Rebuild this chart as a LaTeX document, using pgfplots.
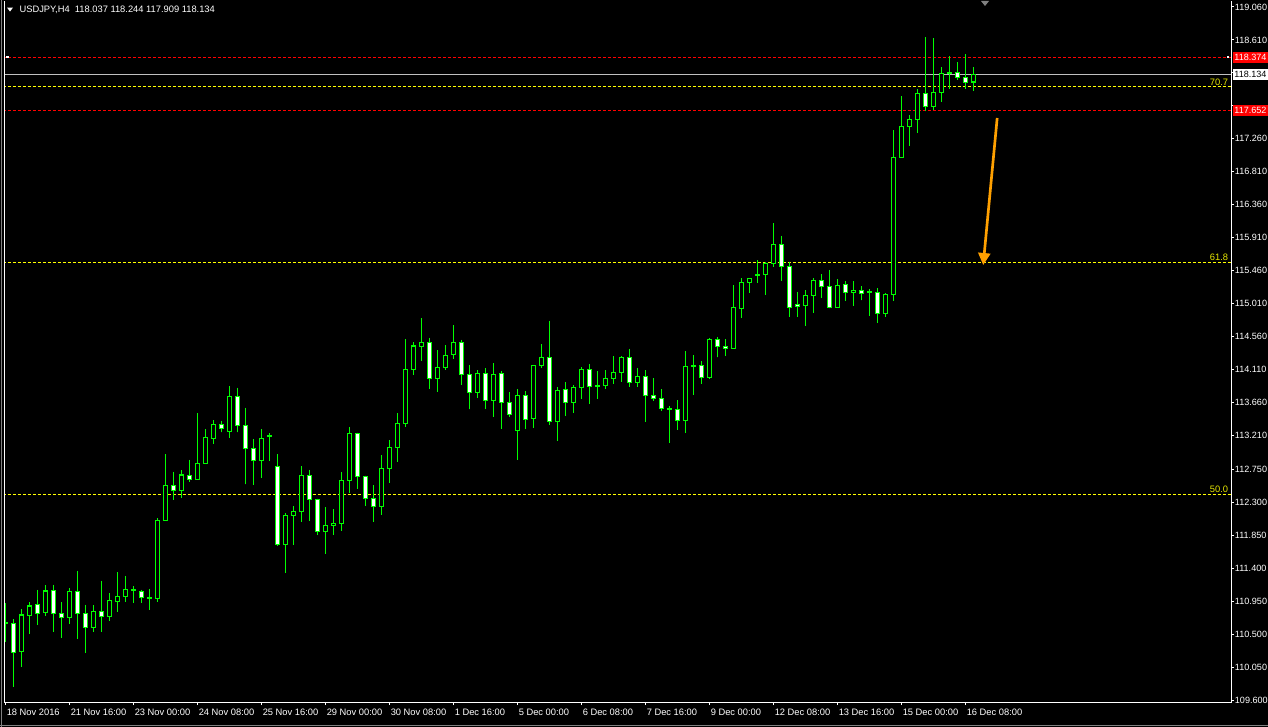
\documentclass[border=0pt]{standalone}
\usepackage{pgfplots}
\pgfplotsset{compat=1.18}
\usepackage{pgfplotstable}
\usepgfplotslibrary{statistics}
\usetikzlibrary{arrows.meta}
\usepackage{fontspec}
\setmainfont{Liberation Sans}
\definecolor{mtgreen}{HTML}{00FF00}
\definecolor{mtred}{HTML}{FF0000}
\definecolor{mtyellow}{HTML}{FFFF00}
\definecolor{fibtext}{HTML}{E6E600}
\definecolor{bidgray}{HTML}{C0C0C0}
\definecolor{mtorange}{HTML}{FFA000}

\pgfplotstableread{
x O H L C
0 110.645 110.920 110.397 110.650
1 110.647 110.706 109.783 110.251
2 110.261 110.843 110.056 110.761
3 110.756 110.938 110.502 110.884
4 110.907 111.102 110.625 110.784
5 110.797 111.171 110.752 111.089
6 111.098 111.171 110.534 110.784
7 110.779 110.938 110.452 110.729
8 110.729 111.125 110.643 111.084
9 111.084 111.362 110.433 110.784
10 110.784 110.898 110.247 110.593
11 110.593 110.898 110.534 110.811
12 110.811 111.225 110.534 110.743
13 110.743 111.057 110.684 110.961
14 110.948 111.348 110.807 111.016
15 111.016 111.293 110.938 111.111
16 111.098 111.157 110.925 111.107
17 111.084 111.102 110.925 111.002
18 110.998 111.116 110.834 110.993
19 110.989 112.081 110.943 112.053
20 112.053 112.959 112.044 112.531
21 112.531 112.713 112.335 112.463
22 112.463 112.740 112.363 112.672
23 112.667 112.877 112.581 112.613
24 112.613 113.518 112.604 112.831
25 112.831 113.300 112.822 113.186
26 113.173 113.418 113.100 113.364
27 113.364 113.409 113.254 113.309
28 113.268 113.887 113.173 113.746
29 113.746 113.860 113.254 113.350
30 113.350 113.587 112.545 113.036
31 113.036 113.159 112.540 112.872
32 112.872 113.295 112.635 113.172
33 113.204 113.241 112.867 113.209
34 112.790 112.958 111.712 111.721
35 111.721 112.149 111.339 112.121
36 112.121 112.249 111.721 112.176
37 112.176 112.795 112.035 112.667
38 112.667 112.740 112.048 112.340
39 112.340 112.349 111.857 111.903
40 111.903 112.235 111.598 111.985
41 111.985 112.208 111.857 112.012
42 112.012 112.713 111.912 112.599
43 112.599 113.327 112.431 113.241
44 113.241 113.250 112.485 112.654
45 112.654 112.663 112.253 112.353
46 112.353 112.531 112.035 112.244
47 112.244 112.945 112.130 112.763
48 112.763 113.150 112.567 113.049
49 113.049 113.518 112.854 113.377
50 113.377 114.528 113.332 114.114
51 114.114 114.483 114.041 114.433
52 114.428 114.815 114.232 114.483
53 114.483 114.542 113.850 113.991
54 113.991 114.378 113.809 114.141
55 114.141 114.446 114.105 114.305
56 114.319 114.719 114.260 114.483
57 114.483 114.515 113.905 114.046
58 114.046 114.173 113.568 113.800
59 113.800 114.105 113.727 114.060
60 114.060 114.132 113.577 113.691
61 113.691 114.201 113.459 114.046
62 114.060 114.087 113.304 113.664
63 113.664 113.800 113.468 113.500
64 113.281 113.841 112.877 113.759
65 113.759 113.814 113.304 113.432
66 113.441 114.173 113.318 114.169
67 114.169 114.460 114.137 114.278
68 114.278 114.774 113.359 113.400
69 113.400 113.868 113.140 113.827
70 113.841 113.937 113.482 113.664
71 113.664 113.896 113.523 113.868
72 113.868 114.141 113.705 114.114
73 114.114 114.182 113.645 113.882
74 113.891 114.087 113.714 113.887
75 113.896 114.100 113.850 113.991
76 113.991 114.292 113.918 114.073
77 114.073 114.292 113.946 114.278
78 114.278 114.392 113.878 113.937
79 113.937 114.128 113.878 114.019
80 114.019 114.100 113.400 113.759
81 113.759 113.991 113.686 113.718
82 113.718 113.841 113.550 113.582
83 113.582 113.609 113.113 113.573
84 113.568 113.691 113.291 113.418
85 113.418 114.360 113.250 114.155
86 114.155 114.305 113.768 114.164
87 114.169 114.223 113.918 114.005
88 114.005 114.537 113.987 114.524
89 114.524 114.551 114.278 114.428
90 114.428 114.524 114.301 114.401
91 114.401 115.261 114.387 114.960
92 114.947 115.356 114.819 115.302
93 115.302 115.365 115.161 115.356
94 115.402 115.607 115.297 115.406
95 115.406 115.575 115.133 115.561
96 115.561 116.112 115.516 115.820
97 115.820 115.934 115.324 115.520
98 115.520 115.584 114.833 114.960
99 115.001 115.170 114.833 114.970
100 114.983 115.197 114.710 115.124
101 115.120 115.356 114.888 115.329
102 115.329 115.415 115.092 115.243
103 115.247 115.470 114.947 114.960
104 114.960 115.347 114.956 115.261
105 115.274 115.315 115.051 115.165
106 115.165 115.315 114.983 115.192
107 115.192 115.247 115.056 115.152
108 115.165 115.211 114.847 115.170
109 115.165 115.220 114.751 114.879
110 114.879 115.161 114.833 115.138
111 115.138 117.381 115.051 117.008
112 117.008 117.845 116.994 117.431
113 117.431 117.586 117.167 117.527
114 117.527 117.936 117.345 117.882
115 117.882 118.650 117.640 117.704
116 117.704 118.637 117.649 117.895
117 117.895 118.241 117.768 118.155
118 118.159 118.391 117.945 118.168
119 118.168 118.309 118.068 118.100
120 118.100 118.418 117.945 118.032
121 118.037 118.244 117.909 118.134
}\candles

\begin{document}
\begin{tikzpicture}
\fill[black] (0bp,0bp) rectangle (951bp,545.25bp);
\useasboundingbox (0bp,0bp) rectangle (951bp,545.25bp);
% window borders
\draw[gray, line width=0.75bp] (0.75bp,0bp) -- (0.75bp,545.25bp);
\draw[gray, line width=0.75bp] (0bp,1.5bp) -- (951bp,1.5bp);
\begin{axis}[
  at={(3bp,18.75bp)}, anchor=south west,
  scale only axis, width=920.25bp, height=525.75bp,
  xmin=-0.1875, xmax=153.1875, ymin=109.5732, ymax=119.1419,
  clip mode=individual,
  axis line style={draw=none},
  tick align=outside, major tick length=2.25bp,
  tick style={white, line width=0.75bp},
  xtick={0,8,...,120},
  xticklabels={18 Nov 2016, 21 Nov 16:00, 23 Nov 00:00, 24 Nov 08:00, 25 Nov 16:00, 29 Nov 00:00, 30 Nov 08:00, 1 Dec 16:00, 5 Dec 00:00, 6 Dec 08:00, 7 Dec 16:00, 9 Dec 00:00, 12 Dec 08:00, 13 Dec 16:00, 15 Dec 00:00, 16 Dec 08:00},
  xtick pos=left,
  ytick pos=right,
  yticklabel pos=right,
  ytick={109.6,110.05,110.5,110.95,111.4,111.85,112.3,112.75,113.21,113.66,114.11,114.56,115.01,115.46,115.91,116.36,116.81,117.26,117.71,118.16,118.61,119.06},
  yticklabels={109.600,110.050,110.500,110.950,111.400,111.850,112.300,112.750,113.210,113.660,114.110,114.560,115.010,115.460,115.910,116.360,116.810,117.260,{},{},118.610,119.060},
  ticklabel style={white, inner sep=0pt},
  xticklabel style={font=\fontsize{7bp}{8bp}\selectfont, anchor=north west, xshift=0.75bp, yshift=-2.5bp},
  yticklabel style={font=\fontsize{6.8bp}{8bp}\selectfont, anchor=west, xshift=0.5bp},
  boxplot/draw direction=y,
]
% horizontal object lines
\addplot[bidgray, line width=0.75bp] coordinates {(-1,118.134) (160,118.134)};
\addplot[mtred, line width=0.75bp, dash pattern=on 2.25bp off 1.5bp] coordinates {(-1,118.374) (160,118.374)};
\addplot[mtred, line width=0.75bp, dash pattern=on 2.25bp off 1.5bp] coordinates {(-1,117.652) (160,117.652)};
\addplot[mtyellow, line width=0.75bp, dash pattern=on 2.25bp off 1.5bp] coordinates {(-1,117.968) (160,117.968)};
\addplot[mtyellow, line width=0.75bp, dash pattern=on 2.25bp off 1.5bp] coordinates {(-1,115.579) (160,115.579)};
\addplot[mtyellow, line width=0.75bp, dash pattern=on 2.25bp off 1.5bp] coordinates {(-1,112.412) (160,112.412)};
% candles
\pgfplotstablegetrowsof{\candles}
\pgfmathtruncatemacro\nrows{\pgfplotsretval-1}
\pgfplotsinvokeforeach{0,...,\nrows}{%
  \pgfplotstablegetelem{#1}{x}\of\candles \let\cX\pgfplotsretval
  \pgfplotstablegetelem{#1}{O}\of\candles \let\cO\pgfplotsretval
  \pgfplotstablegetelem{#1}{H}\of\candles \let\cH\pgfplotsretval
  \pgfplotstablegetelem{#1}{L}\of\candles \let\cL\pgfplotsretval
  \pgfplotstablegetelem{#1}{C}\of\candles \let\cC\pgfplotsretval
  \pgfmathsetmacro\cLo{min(\cO,\cC)}%
  \pgfmathsetmacro\cHi{max(\cO,\cC)}%
  \pgfmathtruncatemacro\cBear{(\cC<\cO) ? 1 : 0}%
  \ifnum\cBear=1 \def\cFill{white}\else\def\cFill{black}\fi
  \edef\doplot{\noexpand\addplot[color=mtgreen, draw=mtgreen, fill=\cFill, line width=1bp, solid, mark=none,
     boxplot prepared={draw position=\cX, lower whisker=\cL, lower quartile=\cLo, median=\cO, upper quartile=\cHi, upper whisker=\cH, box extend=0.48, whisker extend=0}] coordinates {};}%
  \doplot
}
% fib labels
\node[anchor=south east, text=fibtext, font=\fontsize{7bp}{8bp}\selectfont, inner sep=0pt, yshift=1.2bp] at (axis cs:152.85,117.968) {70.7};
\node[anchor=south east, text=fibtext, font=\fontsize{7bp}{8bp}\selectfont, inner sep=0pt, yshift=1.2bp] at (axis cs:152.85,115.579) {61.8};
\node[anchor=south east, text=fibtext, font=\fontsize{7bp}{8bp}\selectfont, inner sep=0pt, yshift=1.2bp] at (axis cs:152.85,112.412) {50.0};
% arrow
\draw[mtorange, line width=2bp, -{Triangle[length=9bp,width=9bp]}] (axis cs:123.96,117.545) -- (axis cs:122.21,115.538);
% borders
\draw[white, line width=0.75bp] (rel axis cs:0,1) -- (rel axis cs:0,0) -- (rel axis cs:1,0) -- (rel axis cs:1,1);
\end{axis}
% price labels on the scale
\fill[mtred] (924.75bp,498.2bp) rectangle (951bp,506.4bp);
\node[anchor=west, white, font=\fontsize{6.8bp}{8bp}\selectfont, inner sep=0pt] at (925.6bp,502.3bp) {118.374};
\fill[white] (924.75bp,485bp) rectangle (951bp,493.2bp);
\node[anchor=west, black, font=\fontsize{6.8bp}{8bp}\selectfont, inner sep=0pt] at (925.6bp,489.1bp) {118.134};
\fill[mtred] (924.75bp,458.5bp) rectangle (951bp,466.7bp);
\node[anchor=west, white, font=\fontsize{6.8bp}{8bp}\selectfont, inner sep=0pt] at (925.6bp,462.6bp) {117.652};
% line markers
\fill[white] (4.5bp,501.4bp) rectangle (6.75bp,503.6bp);
\fill[white] (919.9bp,501.4bp) rectangle (922.1bp,503.6bp);
% chart shift marker
\fill[gray] (735.75bp,544.5bp) -- (741.75bp,544.5bp) -- (738.75bp,540.75bp) -- cycle;
% title
\fill[white] (5.25bp,539.6bp) -- (9.75bp,539.6bp) -- (7.5bp,536.6bp) -- cycle;
\node[anchor=west, white, font=\fontsize{7bp}{8bp}\selectfont, inner sep=0pt] at (14.5bp,538bp) {USDJPY,H4\ \ 118.037 118.244 117.909 118.134};
\end{tikzpicture}
\end{document}
